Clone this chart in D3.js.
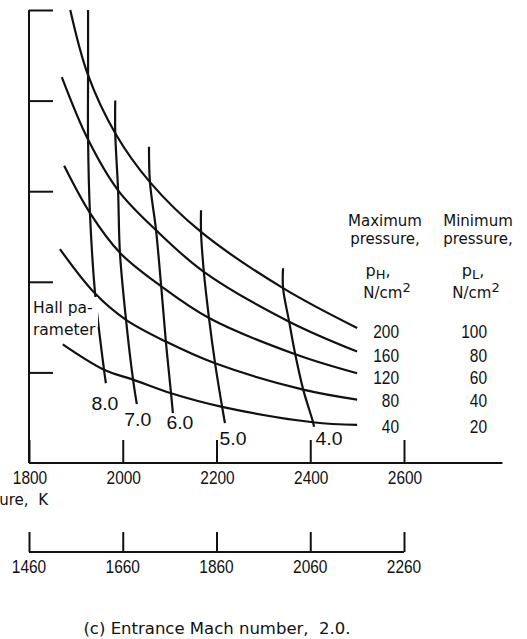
<!DOCTYPE html>
<html>
<head>
<meta charset="utf-8">
<script src="https://cdn.jsdelivr.net/npm/d3@7/dist/d3.min.js"></script>
<style>
  html, body { margin: 0; padding: 0; background: #fff; }
  svg { display: block; }
  .num { font-family: "Liberation Sans", Arial, sans-serif; font-size: 18.5px; fill: #111; }
  .word { font-family: "DejaVu Sans", "Liberation Sans", sans-serif; font-size: 15px; fill: #111; }
</style>
</head>
<body>
<svg id="chart" width="527" height="639"></svg>
<script>
// Stagnation temperature ticks (upper scale) and the companion lower scale, K
const upperTicks = [1800, 2000, 2200, 2400, 2600];
const lowerTicks = [1460, 1660, 1860, 2060, 2260];
const yTicks = [1, 2, 3, 4, 5];

// Constant-pressure curves: [temperature K, ordinate]
const pressuresH = [200, 160, 120, 80, 40];   // maximum pressure, N/cm^2
const pressuresL = [100, 80, 60, 40, 20];     // minimum pressure, N/cm^2
const curveP200 = [[1888, 5.00], [1926, 4.28], [1984, 3.64], [2058, 3.10], [2167, 2.55], [2342, 1.93], [2500, 1.49]];
const curveP160 = [[1870, 4.26], [1926, 3.57], [1990, 3.01], [2071, 2.57], [2173, 2.11], [2355, 1.56], [2500, 1.23]];
const curveP120 = [[1875, 3.28], [1930, 2.76], [1994, 2.32], [2082, 1.95], [2184, 1.60], [2368, 1.20], [2500, 0.99]];
const curveP80  = [[1866, 2.36], [1941, 1.87], [2007, 1.58], [2092, 1.34], [2197, 1.10], [2385, 0.81], [2500, 0.70]];
const curveP40  = [[1872, 1.31], [1960, 1.03], [2022, 0.92], [2103, 0.77], [2212, 0.62], [2406, 0.45], [2500, 0.42]];

// Constant Hall-parameter lines: [temperature K, ordinate]
const hallValues = ["8.0", "7.0", "6.0", "5.0", "4.0"];
const hall8 = [[1926, 5.00], [1926, 4.28], [1926, 3.57], [1930, 2.76], [1941, 1.87], [1960, 1.03], [1964, 0.88]];
const hall7 = [[1984, 4.00], [1984, 3.64], [1990, 3.01], [1994, 2.32], [2007, 1.58], [2022, 0.92], [2030, 0.65]];
const hall6 = [[2056, 3.49], [2058, 3.10], [2071, 2.57], [2082, 1.95], [2092, 1.34], [2103, 0.77], [2107, 0.55]];
const hall5 = [[2167, 2.79], [2167, 2.55], [2173, 2.11], [2184, 1.60], [2197, 1.10], [2212, 0.62], [2218, 0.44]];
const hall4 = [[2342, 2.15], [2342, 1.93], [2355, 1.56], [2368, 1.20], [2385, 0.81], [2406, 0.45], [2408, 0.40]];

const pressureCurves = [curveP200, curveP160, curveP120, curveP80, curveP40];
const hallLines = [hall8, hall7, hall6, hall5, hall4];

const svg = d3.select("#chart");
const ink = "#111";

const x = d3.scaleLinear().domain([1800, 2600]).range([29, 404]);
const xLow = d3.scaleLinear().domain([1460, 2260]).range([29, 404]);
const y = d3.scaleLinear().domain([0, 5]).range([463, 10]);

const line = d3.line().x(d => x(d[0])).y(d => y(d[1])).curve(d3.curveCatmullRom.alpha(0.5));

// Narrow numerals: each digit set to a fixed advance
const numLen = s => String(s).length * 8.6;
function numText(sel) {
  return sel.attr("class", "num").attr("lengthAdjust", "spacingAndGlyphs");
}

// Left axis with inward ticks
const gy = svg.append("g").attr("transform", `translate(${x(1800)},0)`)
  .call(d3.axisRight(y).tickValues(yTicks).tickSize(24).tickFormat(""));
gy.select(".domain").remove();
gy.selectAll("line").attr("stroke", ink).attr("stroke-width", 2);
svg.append("line").attr("x1", x(1800)).attr("x2", x(1800)).attr("y1", y(5)).attr("y2", y(0))
  .attr("stroke", ink).attr("stroke-width", 2);

// Upper temperature axis
const gx = svg.append("g").attr("transform", `translate(0,${y(0)})`)
  .call(d3.axisTop(x).tickValues(upperTicks).tickSize(23).tickFormat(""));
gx.select(".domain").remove();
gx.selectAll("line").attr("stroke", ink).attr("stroke-width", 2);
svg.append("line").attr("x1", x(1800)).attr("x2", x(2810)).attr("y1", y(0)).attr("y2", y(0))
  .attr("stroke", ink).attr("stroke-width", 2);
numText(svg.selectAll(".upperLabel").data(upperTicks).join("text"))
  .attr("x", d => x(d) + 1).attr("y", 484)
  .attr("text-anchor", "middle").attr("textLength", numLen).text(d => d);
svg.append("text").attr("class", "word").attr("x", 48).attr("y", 505)
  .attr("text-anchor", "end").attr("xml:space", "preserve").text("Stagnation temperature,  K");

// Lower temperature axis
const gl = svg.append("g").attr("transform", "translate(0,552)")
  .call(d3.axisTop(xLow).tickValues(lowerTicks).tickSize(20).tickFormat(""));
gl.select(".domain").remove();
gl.selectAll("line").attr("stroke", ink).attr("stroke-width", 2);
svg.append("line").attr("x1", xLow(1460)).attr("x2", xLow(2260)).attr("y1", 552).attr("y2", 552)
  .attr("stroke", ink).attr("stroke-width", 1.8);
numText(svg.selectAll(".lowerLabel").data(lowerTicks).join("text"))
  .attr("x", d => xLow(d)).attr("y", 573)
  .attr("text-anchor", "middle").attr("textLength", numLen).text(d => d);

// Pressure curves
svg.selectAll(".pcurve").data(pressureCurves).join("path")
  .attr("class", "pcurve").attr("d", line)
  .attr("fill", "none").attr("stroke", ink).attr("stroke-width", 2.2);

// Hall-parameter lines
svg.selectAll(".hline").data(hallLines).join("path")
  .attr("class", "hline").attr("d", line)
  .attr("fill", "none").attr("stroke", ink).attr("stroke-width", 2.2);

// Hall-parameter label, set on a white patch that breaks the 8.0 line
svg.append("rect").attr("x", 31).attr("y", 297).attr("width", 67).attr("height", 30).attr("fill", "#fff");
const hall = svg.append("text").attr("class", "word").style("font-size", "15.5px");
hall.append("tspan").attr("x", 33).attr("y", 313).text("Hall pa-");
hall.append("tspan").attr("x", 33).attr("y", 335).text("rameter");

// Hall-parameter values below each line
const hallLabelOffset = [[-1, 27], [1, 22], [7, 16], [8, 22], [15, 18]];
numText(svg.selectAll(".hlabel").data(hallLines).join("text"))
  .attr("x", (d, i) => x(d[d.length - 1][0]) + hallLabelOffset[i][0])
  .attr("y", (d, i) => y(d[d.length - 1][1]) + hallLabelOffset[i][1])
  .attr("text-anchor", "middle").attr("textLength", 27)
  .text((d, i) => hallValues[i]);

// Legend header
const colMax = 385, colMin = 478;
[["Maximum", colMax, 226], ["pressure,", colMax, 244], ["Minimum", colMin, 226], ["pressure,", colMin, 244]]
  .forEach(([t, cx, by]) => svg.append("text").attr("class", "word").attr("x", cx).attr("y", by)
    .attr("text-anchor", "middle").text(t));
[["H", colMax - 7], ["L", colMin - 5]].forEach(([s, cx]) => {
  const t = svg.append("text").attr("class", "word").style("font-size", "16px")
    .attr("x", cx).attr("y", 276).attr("text-anchor", "middle");
  t.append("tspan").text("p");
  t.append("tspan").style("font-size", "13px").attr("dy", 3).text(s);
  t.append("tspan").attr("dy", -3).text(",");
});
[colMax + 2, colMin - 2].forEach(cx => {
  const t = svg.append("text").attr("class", "word").attr("x", cx).attr("y", 298).attr("text-anchor", "middle");
  t.append("tspan").text("N/cm");
  t.append("tspan").style("font-size", "13px").attr("dy", -6).text("2");
});

// Legend values, one row per curve
const rowY = [338, 362, 384, 407, 433];
numText(svg.selectAll(".legH").data(pressuresH).join("text"))
  .attr("x", 399).attr("y", (d, i) => rowY[i])
  .attr("text-anchor", "end").attr("textLength", numLen).text(d => d);
numText(svg.selectAll(".legL").data(pressuresL).join("text"))
  .attr("x", 487).attr("y", (d, i) => rowY[i])
  .attr("text-anchor", "end").attr("textLength", numLen).text(d => d);

// Caption
svg.append("text").attr("class", "word").style("font-size", "16.5px").attr("x", 217).attr("y", 634)
  .attr("text-anchor", "middle").attr("xml:space", "preserve")
  .text("(c) Entrance Mach number,  2.0.");
</script>
</body>
</html>
